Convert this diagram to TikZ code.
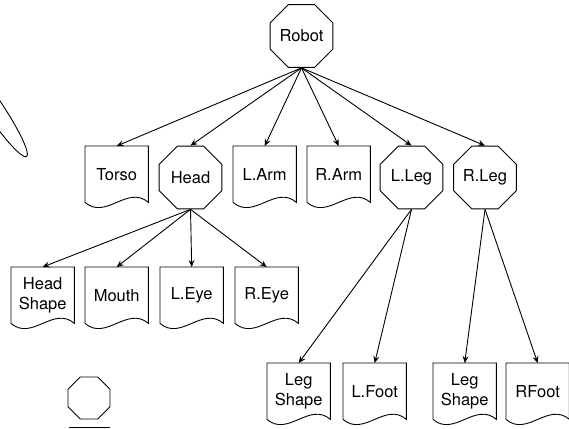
\documentclass[tikz,border=0pt]{standalone}
\usepackage{fontspec}
\setmainfont{TeX Gyre Heros}
\usetikzlibrary{shapes.geometric,arrows.meta,calc}
\tikzset{
  ln/.style={line width=0.9pt, black},
  arr/.style={ln, -{Stealth[length=7pt,width=6pt,inset=2.5pt]}},
  octa/.style={regular polygon, regular polygon sides=8, draw, ln, inner sep=0pt,
    minimum size=68pt, font=\fontsize{16.5}{20}\selectfont},
  smalloct/.style={octa, minimum size=45.5pt},
  docn/.style={rectangle, draw=none, inner sep=0pt, minimum width=63pt, minimum height=56pt,
    anchor=north west, align=center, font=\fontsize{16.5}{20}\selectfont},
}
\newcommand\docnode[4]{%
  \node[docn] (#1) at (#2,#3) {#4};
  \draw[ln, line join=miter] (#1.south west) -- (#1.north west) -- (#1.north east) -- (#1.south east)
    .. controls +(-21,-18) and +(21,18) .. (#1.south west);
}
\begin{document}
\begin{tikzpicture}[x=1pt,y=-1pt]
\useasboundingbox (0,0) rectangle (569,428);
% top node
\node[octa] (robot) at (301.5,36) {Robot};
% row 1
\docnode{torso}{85}{146}{Torso}
\node[octa] (head) at (190.5,177.5) {Head};
\docnode{larm}{233}{146}{L.Arm}
\docnode{rarm}{307}{146}{R.Arm}
\node[octa] (lleg) at (411.5,177.5) {L.Leg};
\node[octa] (rleg) at (485,177.5) {R.Leg};
% row 2
\docnode{hshape}{11}{267}{Head\\Shape}
\docnode{mouth}{85}{267}{Mouth}
\docnode{leye}{160}{267}{L.Eye}
\docnode{reye}{235}{267}{R.Eye}
% row 3
\docnode{lshape}{267}{363}{Leg\\Shape}
\docnode{lfoot}{343}{363}{L.Foot}
\docnode{rshape}{433}{363}{Leg\\Shape}
\docnode{rfoot}{506}{363}{RFoot}
% arrows
\foreach \c in {torso,head,larm,rarm,lleg,rleg}
  \draw[arr] (robot.south) -- (\c.north);
\foreach \c in {hshape,mouth,leye,reye}
  \draw[arr] (head.south) -- (\c.north);
\foreach \c in {lshape,lfoot}
  \draw[arr] (lleg.south) -- (\c.north);
\foreach \c in {rshape,rfoot}
  \draw[arr] (rleg.south) -- (\c.north);
% stray shapes
\draw[ln, shift={(-7.5,106)}, rotate=-56] (0,0) ellipse [x radius=61, y radius=9];
\node[smalloct] (small) at (89,398) {};
\coordinate (la) at (69,427);
\coordinate (lb) at (110,427);
\draw[ln] (la) -- (lb);
\end{tikzpicture}
\end{document}
